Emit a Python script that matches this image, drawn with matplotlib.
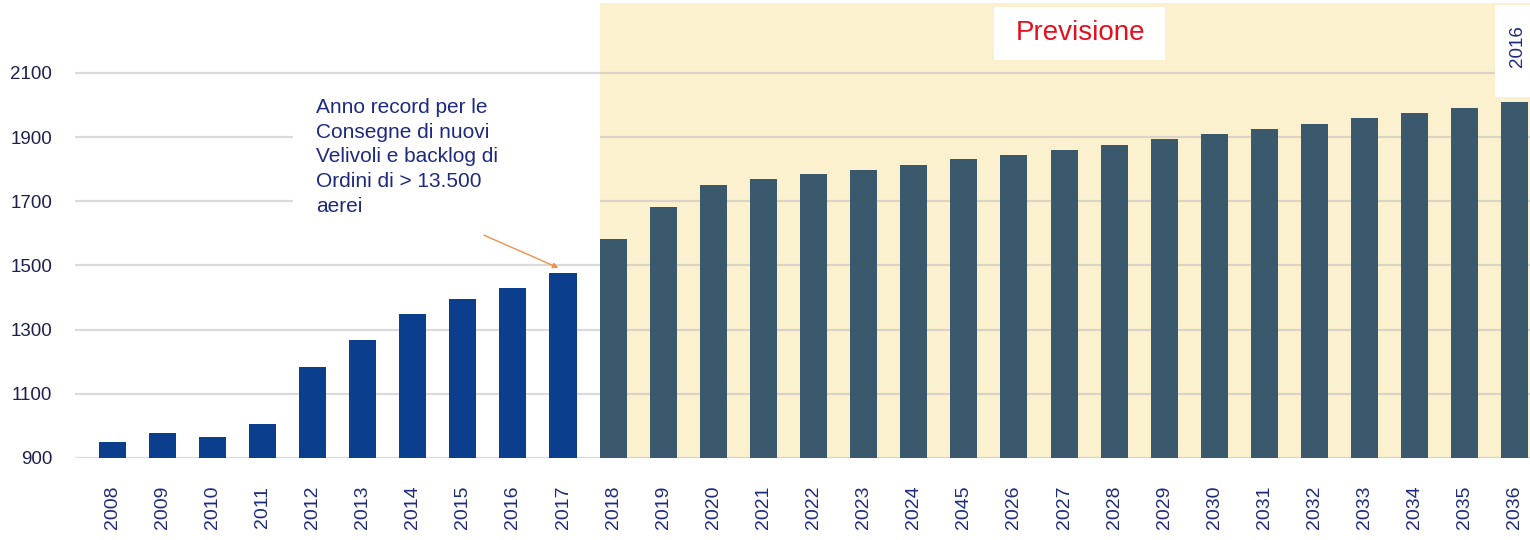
import matplotlib.pyplot as plt
from matplotlib.patches import Rectangle

plt.rcParams['font.family'] = ['Liberation Sans', 'DejaVu Sans']

years = ['2008', '2009', '2010', '2011', '2012', '2013', '2014', '2015', '2016', '2017',
         '2018', '2019', '2020', '2021', '2022', '2023', '2024', '2045', '2026', '2027',
         '2028', '2029', '2030', '2031', '2032', '2033', '2034', '2035', '2036']
values = [951, 978, 967, 1007, 1183, 1269, 1349, 1394, 1431, 1476,
          1583, 1681, 1752, 1769, 1786, 1797, 1814, 1831, 1845, 1859,
          1877, 1893, 1910, 1926, 1940, 1961, 1976, 1992, 2010]
n_history = 10
y_ticks = [900, 1100, 1300, 1500, 1700, 1900, 2100]

note = "Anno record per le\nConsegne di nuovi\nVelivoli e backlog di\nOrdini di > 13.500\naerei"

hist_color = '#0B3F8E'
fc_color = '#3A596D'
shade_color = '#FCF1CF'
navy = '#1E2A7E'

fig = plt.figure(figsize=(15.3, 5.4), dpi=100)
ax = fig.add_axes([75 / 1530, 82 / 540, 1 - 75 / 1530, 455 / 540])

x = list(range(len(years)))
colors = [hist_color if i < n_history else fc_color for i in x]
ax.bar(x, [v - 900 for v in values], bottom=900, width=0.54, color=colors, zorder=3)

ax.set_xlim(-0.74, len(years) - 0.7)
ax.set_ylim(900, 2318)

# forecast shading
ax.axvspan(n_history - 0.27, len(years), color=shade_color, zorder=0, lw=0)

for t in y_ticks:
    ax.axhline(t, color='#BDBDBD', alpha=0.55, lw=1.6, zorder=1)

ax.set_yticks(y_ticks)
ax.set_yticklabels([str(t) for t in y_ticks], fontsize=13.5, color='#1C2050')
ax.set_xticks(x)
ax.set_xticklabels(years, rotation=90, fontsize=14, color=navy)
ax.tick_params(axis='y', length=0, pad=16.5)
ax.tick_params(axis='x', length=0, pad=20)
for s in ax.spines.values():
    s.set_visible(False)

# note with white background
ax.add_patch(Rectangle((3.61, 1533), n_history - 0.27 - 3.61, 2078 - 1533,
                       facecolor='white', edgecolor='none', zorder=2))
ax.text(4.07, 2022, note, fontsize=15, color=navy, va='top', ha='left',
        linespacing=1.38, zorder=4)
ax.annotate('', xy=(8.96, 1489), xytext=(7.37, 1598),
            arrowprops=dict(arrowstyle='-|>', color='#F0914A', lw=1,
                            mutation_scale=8), zorder=4)

ax.add_patch(Rectangle((17.6, 2141), 21.02 - 17.6, 2306 - 2141,
                       facecolor='white', edgecolor='none', zorder=2))
ax.text(19.32, 2225, 'Previsione', fontsize=20, color='#E3101E', ha='center', va='center',
        zorder=4)
ax.add_patch(Rectangle((27.6, 2025), 1.5, 2312 - 2025,
                       facecolor='white', edgecolor='none', zorder=2))
ax.text(28.06, 2185, '2016', fontsize=13.5, color=navy, rotation=90, ha='center',
        va='center', zorder=4)

fig.savefig('out.png', dpi=100, facecolor='white')
